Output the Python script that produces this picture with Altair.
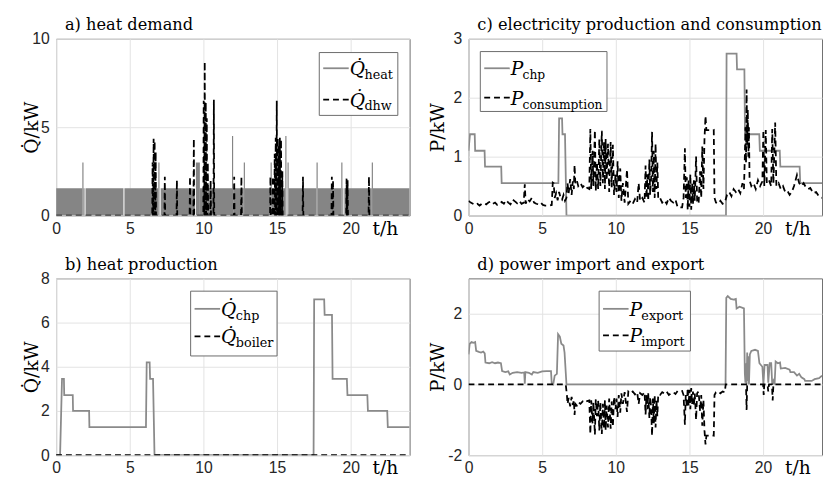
import altair as alt
import pandas as pd

# ---------------- data ----------------
# a) heat demand: space-heating demand (step values, kW)
heat_t = [0, 1.78, 1.86, 1.93, 2.0, 4.57, 4.64, 6.94, 7.02, 7.1, 9.42, 9.49, 9.76,
          11.94, 12.02, 12.74, 12.82, 14.56, 14.64, 14.83, 14.91, 15.56, 15.64, 15.71,
          15.79, 17.68, 17.76, 19.36, 19.44, 19.5, 19.57, 21.43, 21.51, 24]
heat_v = [1.55, 3.0, 1.55, 0, 1.55, 0, 1.55, 3.0, 0, 1.55, 0, 3.0, 1.55,
          4.5, 1.55, 3.0, 1.55, 3.0, 1.55, 3.0, 1.55, 4.5, 0, 3.0,
          1.55, 3.0, 1.55, 3.0, 1.55, 0, 1.55, 3.0, 1.55, 1.55]
# domestic hot water draw-off peaks (time h, kW)
dhw_peak_t = [6.55, 6.62, 6.69, 6.76, 7.38, 8.2, 9.09, 9.35, 10.02, 10.09, 10.16, 10.23,
              10.3, 10.49, 10.71, 12.09, 12.58, 14.55, 14.72, 14.84, 14.91, 14.98, 15.05,
              15.12, 15.19, 15.27, 15.36, 16.76, 18.72, 18.8, 19.72, 19.79, 21.24]
dhw_peak_v = [3.0, 4.35, 4.2, 3.6, 2.2, 2.0, 2.2, 4.35, 6.5, 8.7, 6.4, 5.5,
              3.0, 2.0, 6.55, 2.2, 2.2, 2.2, 2.2, 3.5, 4.4, 6.5, 4.4,
              4.0, 4.4, 4.3, 2.5, 2.2, 2.2, 2.0, 2.1, 2.0, 2.2]

# b) heat production
chp_heat_t = [0, 0.27, 0.4, 0.53, 0.55, 1.13, 1.15, 2.24, 2.26, 6.1, 6.15, 6.35, 6.38,
              6.58, 6.68, 17.48, 17.52, 18.2, 18.23, 18.73, 18.77, 19.74, 19.78, 21.13,
              21.17, 22.48, 22.52, 24]
chp_heat_v = [0, 0, 3.45, 3.45, 2.72, 2.72, 2.0, 2.0, 1.27, 1.27, 4.2, 4.2, 3.45,
              3.45, 0, 0, 7.05, 7.05, 6.35, 6.35, 3.45, 3.45, 2.72, 2.72,
              2.0, 2.0, 1.27, 1.27]
boiler_t = [0, 24]
boiler_v = [0, 0]

# c) electricity production and consumption
chp_el_t = [0, 0.1, 0.42, 0.45, 1.09, 1.12, 2.22, 2.25, 6.1, 6.15, 6.35, 6.38, 6.55,
            6.65, 17.48, 17.52, 18.2, 18.23, 18.73, 18.77, 19.74, 19.78, 21.13, 21.17,
            22.48, 22.52, 24]
chp_el_v = [1.1, 1.38, 1.38, 1.1, 1.1, 0.83, 0.83, 0.55, 0.55, 1.65, 1.65, 1.38, 1.38,
            0, 0, 2.75, 2.75, 2.48, 2.48, 1.38, 1.38, 1.1, 1.1, 0.83,
            0.83, 0.55, 0.55]
cons_t = [0.0, 0.15, 0.3, 0.45, 0.6, 0.75, 0.9, 1.05, 1.2, 1.35, 1.5, 1.65, 1.8, 1.95,
          2.1, 2.25, 2.4, 2.55, 2.7, 2.85, 3.0, 3.15, 3.3, 3.45, 3.6, 3.75, 3.82, 3.88,
          4.0, 4.15, 4.3, 4.45, 4.6, 4.75, 4.9, 5.05, 5.2, 5.35, 5.5, 5.65, 5.72, 5.78,
          5.85, 5.95, 6.05, 6.15, 6.25, 6.35, 6.45, 6.55, 6.65, 6.72, 6.8, 6.9, 7.0,
          7.08, 7.15, 7.2, 7.25, 7.35, 7.45, 7.6, 7.75, 7.9, 8.05, 8.2, 8.27, 8.33, 8.42,
          8.48, 8.58, 8.64, 8.72, 8.8, 8.88, 8.95, 9.05, 9.12, 9.2, 9.26, 9.31, 9.38,
          9.47, 9.55, 9.65, 9.72, 9.8, 9.88, 9.98, 10.05, 10.12, 10.2, 10.3, 10.38,
          10.48, 10.6, 10.76, 10.85, 11.0, 11.15, 11.3, 11.45, 11.55, 11.65, 11.8,
          11.95, 12.02, 12.08, 12.15, 12.2, 12.28, 12.33, 12.4, 12.46, 12.52, 12.58,
          12.64, 12.7, 12.76, 12.82, 12.88, 13.0, 13.15, 13.3, 13.45, 13.6, 13.75,
          13.9, 14.05, 14.2, 14.5, 14.6, 14.69, 14.75, 14.82, 14.88, 14.94, 15.0,
          15.06, 15.12, 15.18, 15.24, 15.3, 15.36, 15.45, 15.52, 15.62, 15.72, 15.8,
          15.87, 15.95, 16.02, 16.09, 16.15, 16.45, 16.55, 16.65, 16.7, 16.8, 16.95,
          17.1, 17.25, 17.4, 17.55, 17.7, 17.85, 18.0, 18.15, 18.3, 18.45, 18.6, 18.7,
          18.76, 18.8, 18.84, 18.88, 18.92, 18.96, 19.0, 19.04, 19.08, 19.2, 19.35,
          19.5, 19.65, 19.8, 19.95, 20.02, 20.08, 20.18, 20.25, 20.4, 20.55, 20.62,
          20.7, 20.82, 20.9, 21.05, 21.2, 21.35, 21.5, 21.65, 21.8, 21.95, 22.1, 22.3,
          22.45, 22.6, 22.75, 22.9, 23.05, 23.2, 23.4, 23.6, 23.8, 24.0]
cons_v = [0.25, 0.22, 0.2, 0.18, 0.2, 0.17, 0.2, 0.21, 0.19, 0.22, 0.24, 0.2, 0.22, 0.18,
          0.2, 0.23, 0.2, 0.26, 0.22, 0.19, 0.27, 0.24, 0.21, 0.25, 0.2, 0.22, 0.53, 0.2,
          0.28, 0.24, 0.3, 0.22, 0.2, 0.19, 0.22, 0.18, 0.17, 0.17, 0.17, 0.18, 0.56, 0.55,
          0.3, 0.38, 0.26, 0.4, 0.3, 0.27, 0.35, 0.25, 0.3, 0.55, 0.38, 0.62, 0.35,
          0.58, 0.45, 0.86, 0.55, 0.6, 0.5, 0.55, 0.48, 0.52, 0.47, 0.45, 1.47, 0.45, 1.1,
          0.5, 1.45, 0.42, 0.9, 0.45, 1.3, 0.5, 1.44, 0.55, 1.25, 0.45, 1.3, 0.6,
          1.22, 0.4, 1.25, 0.48, 1.2, 0.35, 0.7, 0.4, 0.92, 0.3, 0.8, 0.25,
          0.55, 0.22, 0.78, 0.2, 0.25, 0.2, 0.28, 0.22, 0.55, 0.25, 0.3,
          0.22, 0.85, 0.3, 0.7, 0.25, 0.95, 0.35, 0.65, 1.42, 0.4, 1.1,
          0.3, 1.22, 0.45, 0.9, 0.28, 0.3, 0.22, 0.26, 0.2, 0.3, 0.25,
          0.22, 0.27, 0.14, 0.14, 0.3, 1.14, 0.3, 0.65, 0.1, 0.6, 0.15,
          0.7, 0.1, 0.55, 0.2, 0.6, 0.25, 1.0, 0.25, 0.2, 0.75, 0.3,
          1.17, 0.45, 1.3, 1.69, 1.45, 1.45, 1.44, 1.45, 0.3, 0.22, 0.2,
          0.25, 0.2, 0.22, 0.35, 0.4, 0.33, 0.45, 0.4, 0.45, 0.38, 0.55, 0.45,
          1.0, 1.5, 0.9, 2.14, 1.2, 1.8, 1.0, 1.5, 0.6, 0.5, 0.55,
          0.45, 0.6, 0.5, 0.58, 1.45, 0.5, 1.45, 0.55, 0.6, 0.5, 1.47,
          0.55, 1.58, 0.5, 0.55, 0.45, 0.5, 0.4, 0.42, 0.35, 0.4, 0.5, 0.69,
          0.55, 0.5, 0.55, 0.48, 0.45, 0.47, 0.38, 0.4, 0.32, 0.3]

# d) power import and export
export_t = [0.0, 0.08, 0.2, 0.35, 0.45, 0.52, 0.7, 0.85, 1.0, 1.1, 1.15, 1.4, 1.6, 1.8,
            2.0, 2.2, 2.28, 2.5, 2.7, 2.8, 3.0, 3.3, 3.6, 3.78, 3.82, 3.86, 4.1, 4.3,
            4.4, 4.7, 5.0, 5.3, 5.6, 5.65, 5.75, 5.85, 6.0, 6.08, 6.2, 6.3, 6.45, 6.52,
            6.65, 17.45, 17.5, 17.6, 17.8, 18.0, 18.15, 18.2, 18.4, 18.7, 18.76, 18.8,
            18.84, 18.88, 18.92, 18.96, 19.0, 19.04, 19.1, 19.2, 19.45, 19.65, 19.75,
            19.85, 19.95, 20.02, 20.1, 20.3, 20.35, 20.45, 20.55, 20.62, 20.7, 20.78,
            20.85, 21.0, 21.15, 21.2, 21.5, 21.8, 21.85, 22.1, 22.3, 22.45, 22.6, 22.8,
            22.85, 23.3, 23.5, 23.8, 24.0]
export_v = [0.85, 1.15, 1.2, 1.18, 1.2, 0.95, 0.92, 0.9, 0.93, 0.88, 0.62, 0.6, 0.63, 0.6,
            0.62, 0.6, 0.38, 0.35, 0.37, 0.28, 0.33, 0.35, 0.33, 0.34, 0.02, 0.35, 0.33, 0.28,
            0.35, 0.33, 0.37, 0.38, 0.38, 0.02, 0.0, 0.25, 0.3, 1.42, 1.35, 1.15, 1.1, 0.9,
            0.0, 0.0, 2.45, 2.5, 2.42, 2.4, 2.42, 2.15, 2.2, 2.15, 0.3, 0.05,
            0.6, 0.0, 0.9, 0.1, 0.8, 0.0, 0.85, 0.95, 0.98, 0.95, 0.6,
            0.55, 0.5, 0.0, 0.55, 0.55, 0.05, 0.6, 0.6, 0.0, 0.1, 0.0,
            0.65, 0.6, 0.62, 0.45, 0.47, 0.42, 0.35, 0.35, 0.25, 0.3, 0.2, 0.15,
            0.1, 0.1, 0.15, 0.18, 0.25]
import_t = [0.0, 6.6, 6.68, 6.72, 6.8, 6.9, 7.0, 7.08, 7.15, 7.2, 7.25, 7.35, 7.45, 7.6,
            7.75, 7.9, 8.05, 8.2, 8.27, 8.33, 8.42, 8.48, 8.58, 8.64, 8.72, 8.8, 8.88,
            8.95, 9.05, 9.12, 9.2, 9.26, 9.31, 9.38, 9.47, 9.55, 9.65, 9.72, 9.8, 9.88,
            9.98, 10.05, 10.12, 10.2, 10.3, 10.38, 10.48, 10.6, 10.76, 10.85, 11.0,
            11.15, 11.3, 11.45, 11.55, 11.65, 11.8, 11.95, 12.02, 12.08, 12.15, 12.2,
            12.28, 12.33, 12.4, 12.46, 12.52, 12.58, 12.64, 12.7, 12.76, 12.82, 12.88,
            13.0, 13.15, 13.3, 13.45, 13.6, 13.75, 13.9, 14.05, 14.2, 14.5, 14.6,
            14.69, 14.75, 14.82, 14.88, 14.94, 15.0, 15.06, 15.12, 15.18, 15.24, 15.3,
            15.36, 15.45, 15.52, 15.62, 15.72, 15.8, 15.87, 15.95, 16.02, 16.09,
            16.15, 16.45, 16.55, 16.65, 16.7, 16.8, 16.95, 17.1, 17.25, 17.4, 17.46,
            18.84, 18.88, 18.92, 20.0, 20.04, 20.08, 20.3, 20.35, 20.4, 20.6, 20.65,
            20.7, 24.0]
import_v = [0.0, 0.0, -0.3, -0.55, -0.38, -0.62, -0.35, -0.58, -0.45, -0.86, -0.55, -0.6,
            -0.5, -0.55, -0.48, -0.52, -0.47, -0.45, -1.4, -0.45, -1.1, -0.5, -1.42,
            -0.42, -0.9, -0.45, -1.3, -0.5, -1.4, -0.55, -1.25, -0.45, -1.3, -0.6,
            -1.22, -0.4, -1.25, -0.48, -1.2, -0.35, -0.7, -0.4, -0.92, -0.3, -0.8,
            -0.25, -0.55, -0.22, -0.78, -0.2, -0.25, -0.2, -0.28, -0.22, -0.55, -0.25,
            -0.3, -0.22, -0.85, -0.3, -0.7, -0.25, -0.95, -0.35, -0.65, -1.45, -0.4,
            -1.1, -0.3, -1.22, -0.45, -0.9, -0.28, -0.3, -0.22, -0.26, -0.2, -0.3,
            -0.25, -0.22, -0.27, -0.18, -0.18, -0.3, -1.14, -0.3, -0.65, -0.1, -0.6,
            -0.15, -0.7, -0.1, -0.55, -0.2, -0.6, -0.25, -1.0, -0.25, -0.2, -0.75,
            -0.3, -1.17, -0.45, -1.3, -1.7, -1.45, -1.45, -1.44, -1.45, -0.3, -0.22,
            -0.2, -0.25, -0.2, -0.22, 0.0, 0.0, -0.72, 0.0, 0.0, -0.3, 0.0, 0.0,
            -0.2, 0.0, 0.0, -0.45, 0.0, 0.0]

X_TICKS = [0, 5, 10, 15, 20]
GRAY = "#8a8a8a"
BAND = "#858585"
DASH = [6, 4]
SERIF = "DejaVu Serif"


def frame(t, v):
    return pd.DataFrame({"t": t, "v": v, "i": list(range(len(t)))})


# build the dhw series as narrow spikes on a zero baseline
dhw_t, dhw_v = [0.0], [0.0]
for pt, pv in zip(dhw_peak_t, dhw_peak_v):
    dhw_t += [pt - 0.025, pt, pt + 0.025]
    dhw_v += [0.0, pv, 0.0]
dhw_t.append(24.0)
dhw_v.append(0.0)


def xenc():
    return alt.X("t:Q", scale=alt.Scale(domain=[0, 24], nice=False, zero=False),
                 axis=alt.Axis(values=X_TICKS, title="t/h", titleX=348, titleY=19,
                               titleAlign="right", titleBaseline="alphabetic",
                               labelPadding=5, labelFlush=False))


def yenc(domain, ticks, title, title_x):
    return alt.Y("v:Q", scale=alt.Scale(domain=domain, nice=False, zero=False),
                 axis=alt.Axis(values=ticks, title=title, titleX=title_x, titleY=90,
                               titleAngle=270, titleAlign="center", titleBaseline="middle",
                               labelPadding=7, labelExpr="'' + datum.value",
                               labelFlush=False))


def line(df, color, dash, domain, ticks, title, ytx, width=1.8):
    kw = dict(color=color, strokeWidth=width, clip=True)
    if dash:
        kw["strokeDash"] = dash
    return alt.Chart(df).mark_line(**kw).encode(
        x=xenc(), y=yenc(domain, ticks, title, ytx), order="i:Q")


ONE = pd.DataFrame({"k": [0]})


def legend(x0, x1, y0, y1, rows, letter, subsize=13):
    layers = [alt.Chart(ONE).mark_rect(fill="white", stroke="#6a6a6a", strokeWidth=1).encode(
        x=alt.value(x0), x2=alt.value(x1), y=alt.value(y0), y2=alt.value(y1))]
    for (yy, color, dash, sub) in rows:
        kw = dict(color=color, strokeWidth=1.8)
        if dash:
            kw["strokeDash"] = dash
        layers.append(alt.Chart(ONE).mark_rule(**kw).encode(
            x=alt.value(x0 + 4), x2=alt.value(x0 + 30), y=alt.value(yy)))
        layers.append(alt.Chart(ONE).mark_text(
            font=SERIF, fontStyle="italic", fontSize=19, align="left",
            baseline="alphabetic", color="black").encode(
            x=alt.value(x0 + 31), y=alt.value(yy + 7), text=alt.value(letter)))
        lw = 15 if letter.startswith("Q") else 12
        layers.append(alt.Chart(ONE).mark_text(
            font=SERIF, fontSize=subsize, align="left", baseline="alphabetic",
            color="black").encode(
            x=alt.value(x0 + 31 + lw), y=alt.value(yy + 11), text=alt.value(sub)))
    return layers


def ptitle(text):
    return alt.Chart(ONE).mark_text(
        font=SERIF, fontSize=16.5, align="left", baseline="alphabetic", color="black"
    ).encode(x=alt.value(9), y=alt.value(-9), text=alt.value(text))


QT = "Q̇/kW"
PT = "P/kW"
LX = -25
RX = -31

# ---- a) heat demand
a_dom, a_ticks = [0, 10], [0, 5, 10]
pa_heat = alt.Chart(frame(heat_t, heat_v)).mark_area(
    interpolate="step-after", color=BAND, clip=True).encode(
    x=xenc(), y=yenc(a_dom, a_ticks, QT, LX), order="i:Q")
pa_dhw = line(frame(dhw_t, dhw_v), "black", DASH, a_dom, a_ticks, QT, LX)
pa = alt.layer(pa_heat, pa_dhw, *legend(268, 348, 14, 78,
                                         [(30, GRAY, None, "heat"), (62, "black", DASH, "dhw")],
                                         "Q̇"),
               ptitle("a) heat demand")).properties(width=360, height=180)

# ---- b) heat production
b_dom, b_ticks = [0, 8], [0, 2, 4, 6, 8]
pb = alt.layer(
    line(frame(chp_heat_t, chp_heat_v), GRAY, None, b_dom, b_ticks, QT, LX),
    line(frame(boiler_t, boiler_v), "black", DASH, b_dom, b_ticks, QT, LX),
    *legend(137, 225, 13, 79, [(31, GRAY, None, "chp"), (59, "black", DASH, "boiler")], "Q̇"),
    ptitle("b) heat production")
).properties(width=360, height=180)

# ---- c) electricity production and consumption
c_dom, c_ticks = [0, 3], [0, 1, 2, 3]
pc = alt.layer(
    line(frame(chp_el_t, chp_el_v), GRAY, None, c_dom, c_ticks, PT, RX),
    line(frame(cons_t, cons_v), "black", DASH, c_dom, c_ticks, PT, RX),
    *legend(12, 141, 13, 74, [(30, GRAY, None, "chp"), (60, "black", DASH, "consumption")],
            "P", subsize=12.5),
    ptitle("c) electricity production and consumption")
).properties(width=360, height=180)

# ---- d) power import and export
d_dom, d_ticks = [-2, 3], [-2, 0, 2]
pd_ = alt.layer(
    line(frame(export_t, export_v), GRAY, None, d_dom, d_ticks, PT, RX),
    line(frame(import_t, import_v), "black", DASH, d_dom, d_ticks, PT, RX),
    *legend(133, 226, 13, 74, [(31, GRAY, None, "export"), (58, "black", DASH, "import")], "P"),
    ptitle("d) power import and export")
).properties(width=360, height=180)

chart = alt.concat(pa, pc, pb, pd_, columns=2, bounds="flush",
                   spacing={"row": 64, "column": 60}).properties(
    padding={"left": 14, "top": 4, "right": 0, "bottom": 0}
).configure_view(stroke="#6e6e6e", strokeWidth=1).configure_axis(
    grid=True, gridColor="#e2e2e2", gridWidth=1, domain=False, ticks=False, tickSize=0,
    labelFont="Liberation Sans", labelFontSize=16, labelColor="#262626",
    titleFont=SERIF, titleFontSize=19, titleFontWeight="normal", titleColor="black")

chart.save("out.html", embed_options={"renderer": "svg", "actions": False})
